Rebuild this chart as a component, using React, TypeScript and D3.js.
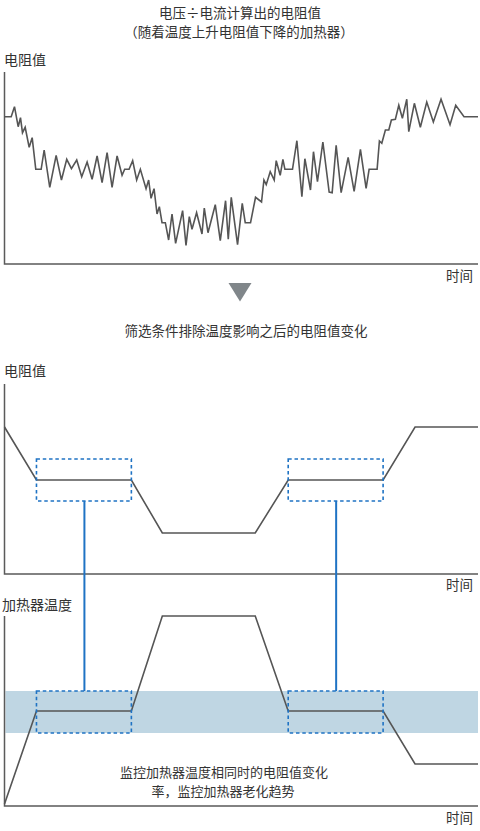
import React from "react";
import * as d3 from "d3";

// ---------- DATA ----------
// Top panel: raw resistance readings [time, resistance] (arbitrary units)
const topReadings: [number, number][] = [
  [0, 147.3], [6.7, 147.3], [10, 157.3], [13.7, 137.3], [16, 146.3], [18, 131.3], [20.7, 136.7],
  [24.7, 116.7], [27.7, 126.3], [31.3, 94.7], [36.7, 94.7], [39.7, 114], [45.3, 76.7], [51.7, 108.7],
  [57, 84], [62.3, 104.7], [67, 95.3], [72.3, 104], [77.3, 87.3], [82.7, 102], [87.7, 84.7],
  [92.7, 108], [97.7, 81.3], [102.7, 111.3], [107.7, 76.7], [112.7, 108], [117.7, 88.7], [120.3, 94.7],
  [124.7, 94.7], [128.3, 103.3], [132.3, 84], [136, 94.7], [141.7, 75.3], [144.3, 84], [146.7, 65.7],
  [149.7, 75.3], [152.7, 50], [155, 57.3], [157.7, 41.3], [161, 41.3], [164.3, 24], [167.7, 50],
  [171.3, 20.7], [178.3, 53.3], [181.7, 18.7], [185, 47.3], [187.7, 34.7], [192.3, 51.3], [197.7, 30],
  [200, 56], [203.7, 31.3], [211, 59.3], [216, 23.3], [221.3, 63.3], [224, 24.7], [227, 66.7],
  [233.3, 19.3], [238, 60.7], [241, 41.3], [246.3, 41.3], [251.3, 66.7], [257.3, 62], [259.7, 84],
  [262, 79.3], [266, 92.3], [270, 84], [272, 103.3], [276, 88.7], [278.7, 104.7], [280.7, 94.7],
  [288.3, 94.7], [292.7, 123.3], [297.7, 67.3], [300.7, 105.3], [306.3, 74], [309.3, 112.3],
  [313.3, 82.3], [318.7, 122], [325, 72], [328, 71.3], [332, 118.7], [337, 71.3], [344, 106.7],
  [350, 72.7], [356.3, 114.7], [362, 75.7], [365, 94.7], [373, 94.7], [375.3, 123], [377.7, 120.7],
  [381.3, 134], [384.7, 134], [387.3, 144], [391.3, 144.7], [394.7, 158.7], [398.3, 145.7],
  [402.7, 164.7], [404.7, 132.3], [410.3, 160.7], [416.3, 136.7], [422.7, 162], [429.3, 142],
  [437, 164.7], [446, 139.3], [451.7, 158.7], [460, 147.3], [474, 147.3],
];

// Lower panels share a time axis
const stepTimes = [0, 32, 127, 158, 251, 284, 379, 411, 474];
const filteredResistance = [147, 94, 94, 41, 41, 94, 94, 147, 147];
const heaterTemperature = [2, 95, 95, 190, 190, 95, 95, 42, 42];

// Matching temperature windows (time ranges) and value ranges
const windowTimes: [number, number][] = [[32, 127], [284, 379]];
const connectorTimes = [80, 332];
const resistanceWindow: [number, number] = [73, 115];
const temperatureBand: [number, number] = [73, 115];

const titleLines = ["电压÷电流计算出的电阻值", "（随着温度上升电阻值下降的加热器）"];
const middleTitle = "筛选条件排除温度影响之后的电阻值变化";
const noteLines = ["监控加热器温度相同时的电阻值变化", "率，监控加热器老化趋势"];

// ---------- LAYOUT ----------
const W = 480;
const H = 831;
const FONT = "'Noto Sans CJK SC', 'Noto Sans', sans-serif";
const TEXT = "#333";
const AXIS = "#5a5a5a";
const LINE = "#555";
const BLUE = "#1f73c4";
const BAND = "#bfd6e3";

const x = d3.scaleLinear().domain([0, 474]).range([4.5, 478]);
const yTop = d3.scaleLinear().domain([0, 192]).range([264, 72]);
const yMid = d3.scaleLinear().domain([0, 190]).range([574, 384]);
const yBot = d3.scaleLinear().domain([0, 190]).range([806, 616]);

export default function App() {
  const topLine = d3
    .line<[number, number]>()
    .x((d) => x(d[0]))
    .y((d) => yTop(d[1]))(topReadings);

  const midLine = d3
    .line<number>()
    .x((_, i) => x(stepTimes[i]))
    .y((d) => yMid(d))(filteredResistance);

  const botLine = d3
    .line<number>()
    .x((_, i) => x(stepTimes[i]))
    .y((d) => yBot(d))(heaterTemperature);

  const axes = (y: d3.ScaleLinear<number, number>) => {
    const [y0, y1] = y.range();
    return (
      <path
        d={`M${x(0)},${y1}V${y0}H${x(474)}`}
        fill="none"
        stroke={AXIS}
        strokeWidth={1.5}
      />
    );
  };

  const box = (y: d3.ScaleLinear<number, number>, t: [number, number], v: [number, number], k: string) => (
    <rect
      key={k}
      x={x(t[0])}
      y={y(v[1])}
      width={x(t[1]) - x(t[0])}
      height={y(v[0]) - y(v[1])}
      fill="none"
      stroke={BLUE}
      strokeWidth={1.6}
      strokeDasharray="3.5 2.8"
    />
  );

  return (
    <svg
      width={W}
      height={H}
      viewBox={`0 0 ${W} ${H}`}
      style={{ position: "absolute", left: 0, top: 0 }}
      fontFamily={FONT}
    >
      <rect width={W} height={H} fill="#fff" />

      {/* top titles */}
      <text x={240} y={18} textAnchor="middle" fontSize={13.5} fill={TEXT}>
        {titleLines[0]}
      </text>
      <text x={239} y={36.5} textAnchor="middle" fontSize={13.5} fill={TEXT}>
        {titleLines[1]}
      </text>

      {/* top panel */}
      <text x={4} y={65} fontSize={14} fill={TEXT}>电阻值</text>
      {axes(yTop)}
      <path d={topLine ?? ""} fill="none" stroke={LINE} strokeWidth={1.6} strokeLinejoin="miter" />
      <text x={473} y={281} textAnchor="end" fontSize={13.5} fill={TEXT}>时间</text>

      {/* arrow */}
      <path d="M228.5,283L251.5,283L240,301.5Z" fill="#80868a" />

      <text x={246} y={336} textAnchor="middle" fontSize={13.5} fill={TEXT}>
        {middleTitle}
      </text>

      {/* middle panel */}
      <text x={4} y={376} fontSize={14} fill={TEXT}>电阻值</text>
      {axes(yMid)}
      <path d={midLine ?? ""} fill="none" stroke={LINE} strokeWidth={1.6} />
      {windowTimes.map((t, i) => box(yMid, t, resistanceWindow, `m${i}`))}
      <text x={473} y={590} textAnchor="end" fontSize={13.5} fill={TEXT}>时间</text>

      {/* connectors */}
      {connectorTimes.map((t, i) => (
        <line
          key={`c${i}`}
          x1={x(t)}
          x2={x(t)}
          y1={yMid(resistanceWindow[0])}
          y2={yBot(temperatureBand[1])}
          stroke={BLUE}
          strokeWidth={2}
        />
      ))}

      {/* bottom panel */}
      <rect
        x={x(1)}
        y={yBot(temperatureBand[1])}
        width={x(474) - x(1)}
        height={yBot(temperatureBand[0]) - yBot(temperatureBand[1])}
        fill={BAND}
      />
      <text x={2} y={610} fontSize={14} fill={TEXT}>加热器温度</text>
      {axes(yBot)}
      <path d={botLine ?? ""} fill="none" stroke={LINE} strokeWidth={1.6} />
      {windowTimes.map((t, i) => box(yBot, t, temperatureBand, `b${i}`))}
      <text x={224} y={777} textAnchor="middle" fontSize={13} fill={TEXT}>
        {noteLines[0]}
      </text>
      <text x={223} y={796} textAnchor="middle" fontSize={13} fill={TEXT}>
        {noteLines[1]}
      </text>
      <text x={473} y={823} textAnchor="end" fontSize={13.5} fill={TEXT}>时间</text>
    </svg>
  );
}
